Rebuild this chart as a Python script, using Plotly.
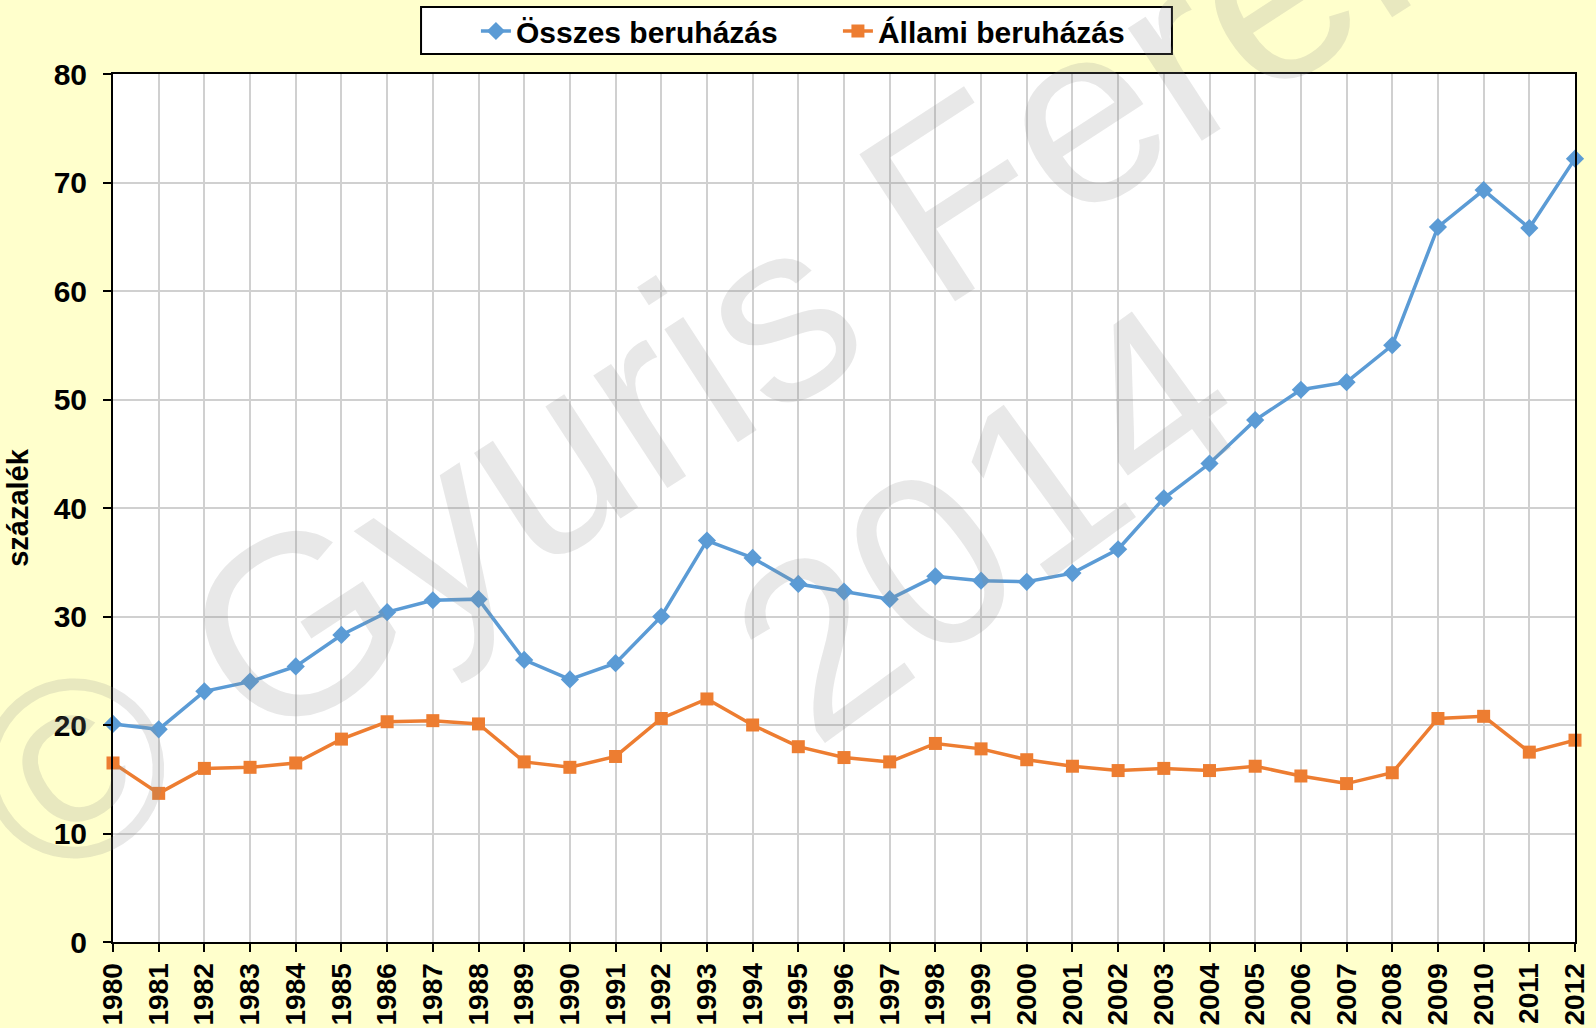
import plotly.graph_objects as go

years = list(range(1980, 2013))

osszes = [20.1, 19.6, 23.1, 24.0, 25.4, 28.3, 30.4, 31.5, 31.6, 26.0,
          24.2, 25.7, 30.0, 37.0, 35.4, 33.0, 32.3, 31.6, 33.7, 33.3,
          33.2, 34.0, 36.2, 40.9, 44.1, 48.1, 50.9, 51.6, 55.0, 65.9,
          69.3, 65.8, 72.2]

allami = [16.5, 13.7, 16.0, 16.1, 16.5, 18.7, 20.3, 20.4, 20.1, 16.6,
          16.1, 17.1, 20.6, 22.4, 20.0, 18.0, 17.0, 16.6, 18.3, 17.8,
          16.8, 16.2, 15.8, 16.0, 15.8, 16.2, 15.3, 14.6, 15.6, 20.6,
          20.8, 17.5, 18.6]

font_family = "Liberation Sans, Arial, sans-serif"
wm_color = "rgba(140,140,140,0.2)"

fig = go.Figure()
fig.add_trace(go.Scatter(x=years, y=osszes, name="Összes beruházás",
                         mode="lines+markers", cliponaxis=False,
                         line=dict(color="#5B9BD5", width=3.5),
                         marker=dict(symbol="diamond", size=14, color="#5B9BD5")))
fig.add_trace(go.Scatter(x=years, y=allami, name="Állami beruházás",
                         mode="lines+markers", cliponaxis=False,
                         line=dict(color="#ED7D31", width=3.5),
                         marker=dict(symbol="square", size=13, color="#ED7D31")))

# watermark
fig.add_annotation(text="© Gyuris Ferenc", xref="paper", yref="paper",
                   x=0.453, y=0.725, xanchor="center", yanchor="middle",
                   showarrow=False, textangle=-33,
                   font=dict(family=font_family, size=255, color=wm_color))
fig.add_annotation(text="2014", xref="paper", yref="paper",
                   x=0.597, y=0.485, xanchor="center", yanchor="middle",
                   showarrow=False, textangle=-36,
                   font=dict(family=font_family, size=245, color=wm_color))

# legend frame
fig.add_shape(type="rect", xref="paper", yref="paper",
              x0=0.2107, x1=0.7243, y0=1.0230, y1=1.0772,
              fillcolor="white", line=dict(color="black", width=2), layer="below")

fig.update_layout(
    width=1596, height=1028,
    margin=dict(l=113, r=21, t=74, b=86),
    paper_bgcolor="#FFFFCC",
    plot_bgcolor="white",
    font=dict(family=font_family, color="black"),
    showlegend=True,
    legend=dict(orientation="h", x=0.2982, xanchor="left", xref="container",
                y=1 - 31 / 1028, yanchor="middle", yref="container",
                bgcolor="rgba(0,0,0,0)", borderwidth=0,
                font=dict(size=30, weight="bold"), entrywidth=317),
)
fig.update_xaxes(range=[1980, 2012], tickmode="array", tickvals=years,
                 ticktext=[str(y) for y in years], tickangle=-90,
                 tickfont=dict(size=28, weight="bold"), ticklabelstandoff=0,
                 showgrid=True, gridcolor="#d0d0d0", gridwidth=1.5,
                 showline=True, linecolor="black", linewidth=2, mirror=True,
                 ticks="outside", ticklen=8, tickwidth=2, tickcolor="black",
                 zeroline=False, automargin=False)
fig.update_yaxes(range=[0, 80], dtick=10,
                 tickfont=dict(size=30, weight="bold"), ticklabelstandoff=10,
                 title=dict(text="százalék", font=dict(size=29, weight="bold"), standoff=16),
                 showgrid=True, gridcolor="#d0d0d0", gridwidth=1.5,
                 showline=True, linecolor="black", linewidth=2, mirror=True,
                 ticks="outside", ticklen=8, tickwidth=2, tickcolor="black",
                 zeroline=False, automargin=False)

fig.write_html("out.html", config={"displayModeBar": False},
               post_script="document.body.style.margin='0';"
                           "document.body.style.background='#FFFFCC';")
